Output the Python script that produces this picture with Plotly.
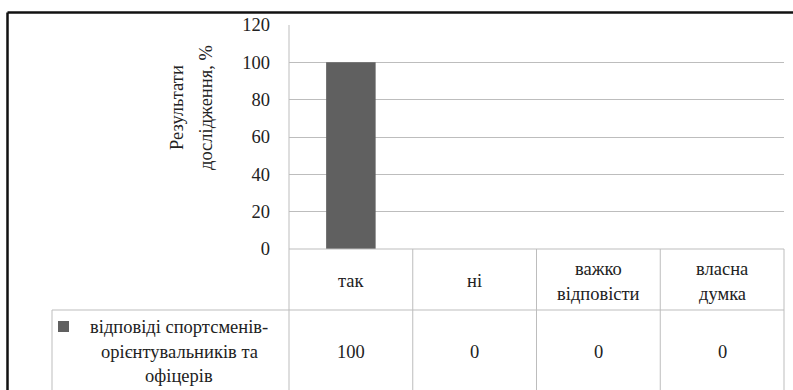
import plotly.graph_objects as go

# Survey data
categories = ["так", "ні", "важко\nвідповісти", "власна\nдумка"]
values = [100, 0, 0, 0]
series_name = "відповіді спортсменів-\nорієнтувальників та\nофіцерів"
y_title = ["Результати", "дослідження, %"]
y_ticks = [0, 20, 40, 60, 80, 100, 120]

W, H = 793, 390
FONT = "'Liberation Serif', 'Times New Roman', Tinos, 'DejaVu Serif', serif"
FS = 18.5
TXT = "#222222"
GRID = "#bdbdbd"
BAR = "#606060"


def px(x):
    return x / W


def py(y):
    return 1 - y / H


cat_keys = [c.replace("\n", " ") for c in categories]

fig = go.Figure()
fig.add_trace(go.Bar(
    x=cat_keys, y=values,
    marker=dict(color=BAR, line=dict(width=0)),
    showlegend=False,
))

plot_l, plot_r, plot_t, plot_b = 289, 784, 25, 249

fig.update_layout(
    width=W, height=H,
    margin=dict(l=0, r=0, t=0, b=0, pad=0, autoexpand=False),
    paper_bgcolor="white", plot_bgcolor="white",
    bargap=0.6,
    showlegend=False,
    font=dict(family=FONT, size=FS, color=TXT),
    xaxis=dict(domain=[px(plot_l), px(plot_r)], showticklabels=False,
               showgrid=False, zeroline=False, showline=False, ticks="",
               automargin=False),
    yaxis=dict(domain=[py(plot_b), py(plot_t)], range=[0, 120],
               tickvals=y_ticks, showgrid=True, gridcolor=GRID, gridwidth=1,
               zeroline=False, showline=False, ticks="",
               ticklabelstandoff=18, automargin=False,
               tickfont=dict(family=FONT, size=FS, color=TXT)),
)

shapes = []
line = dict(color=GRID, width=1)
# plot-area left edge continuing down through the table
shapes.append(dict(type="line", xref="paper", yref="paper",
                   x0=px(plot_l), x1=px(plot_l), y0=py(plot_t), y1=py(H + 2), line=line))
# table grid
shapes.append(dict(type="line", xref="paper", yref="paper",
                   x0=px(plot_l), x1=px(plot_r), y0=py(plot_b), y1=py(plot_b), line=line))
shapes.append(dict(type="line", xref="paper", yref="paper",
                   x0=px(52), x1=px(plot_r), y0=py(310), y1=py(310), line=line))
shapes.append(dict(type="line", xref="paper", yref="paper",
                   x0=px(52), x1=px(52), y0=py(310), y1=py(H + 2), line=line))
col_w = (plot_r - plot_l) / len(categories)
for i in range(1, len(categories) + 1):
    xx = plot_l + i * col_w
    shapes.append(dict(type="line", xref="paper", yref="paper",
                       x0=px(xx), x1=px(xx), y0=py(plot_b), y1=py(H + 2), line=line))
# legend key
shapes.append(dict(type="rect", xref="paper", yref="paper",
                   x0=px(58), x1=px(69), y0=py(332), y1=py(321),
                   fillcolor=BAR, line=dict(width=0)))
# outer chart frame
frame = dict(color="#111111", width=2.5)
shapes.append(dict(type="line", xref="paper", yref="paper",
                   x0=px(7.5), x1=px(W + 2), y0=py(12.5), y1=py(12.5), line=frame))
shapes.append(dict(type="line", xref="paper", yref="paper",
                   x0=px(7.5), x1=px(7.5), y0=py(12.5), y1=py(H + 2), line=frame))
fig.update_layout(shapes=shapes)

ann = []
# y-axis title, two rotated lines
for xpos, txt in zip([177, 206], y_title):
    ann.append(dict(x=px(xpos), y=py(108), xref="paper", yref="paper",
                    text=txt, textangle=-90, showarrow=False,
                    xanchor="center", yanchor="middle",
                    font=dict(family=FONT, size=FS, color=TXT)))
# table header (category names) and value row
for key, cat, v in zip(cat_keys, categories, values):
    parts = cat.split("\n")
    n = len(parts)
    for j, p in enumerate(parts):
        yy = 281 + (j - (n - 1) / 2) * 25
        ann.append(dict(x=key, y=py(yy), xref="x", yref="paper", text=p,
                        showarrow=False, xanchor="center", yanchor="middle",
                        font=dict(family=FONT, size=FS, color=TXT)))
    ann.append(dict(x=key, y=py(352), xref="x", yref="paper", text=str(v),
                    showarrow=False, xanchor="center", yanchor="middle",
                    font=dict(family=FONT, size=FS, color=TXT)))
# series name in the table's legend cell
for j, p in enumerate(series_name.split("\n")):
    ann.append(dict(x=px(179), y=py(327 + j * 24.5), xref="paper", yref="paper",
                    text=p, showarrow=False, xanchor="center", yanchor="middle",
                    font=dict(family=FONT, size=FS, color=TXT)))
fig.update_layout(annotations=ann)

fig.write_html("out.html")
